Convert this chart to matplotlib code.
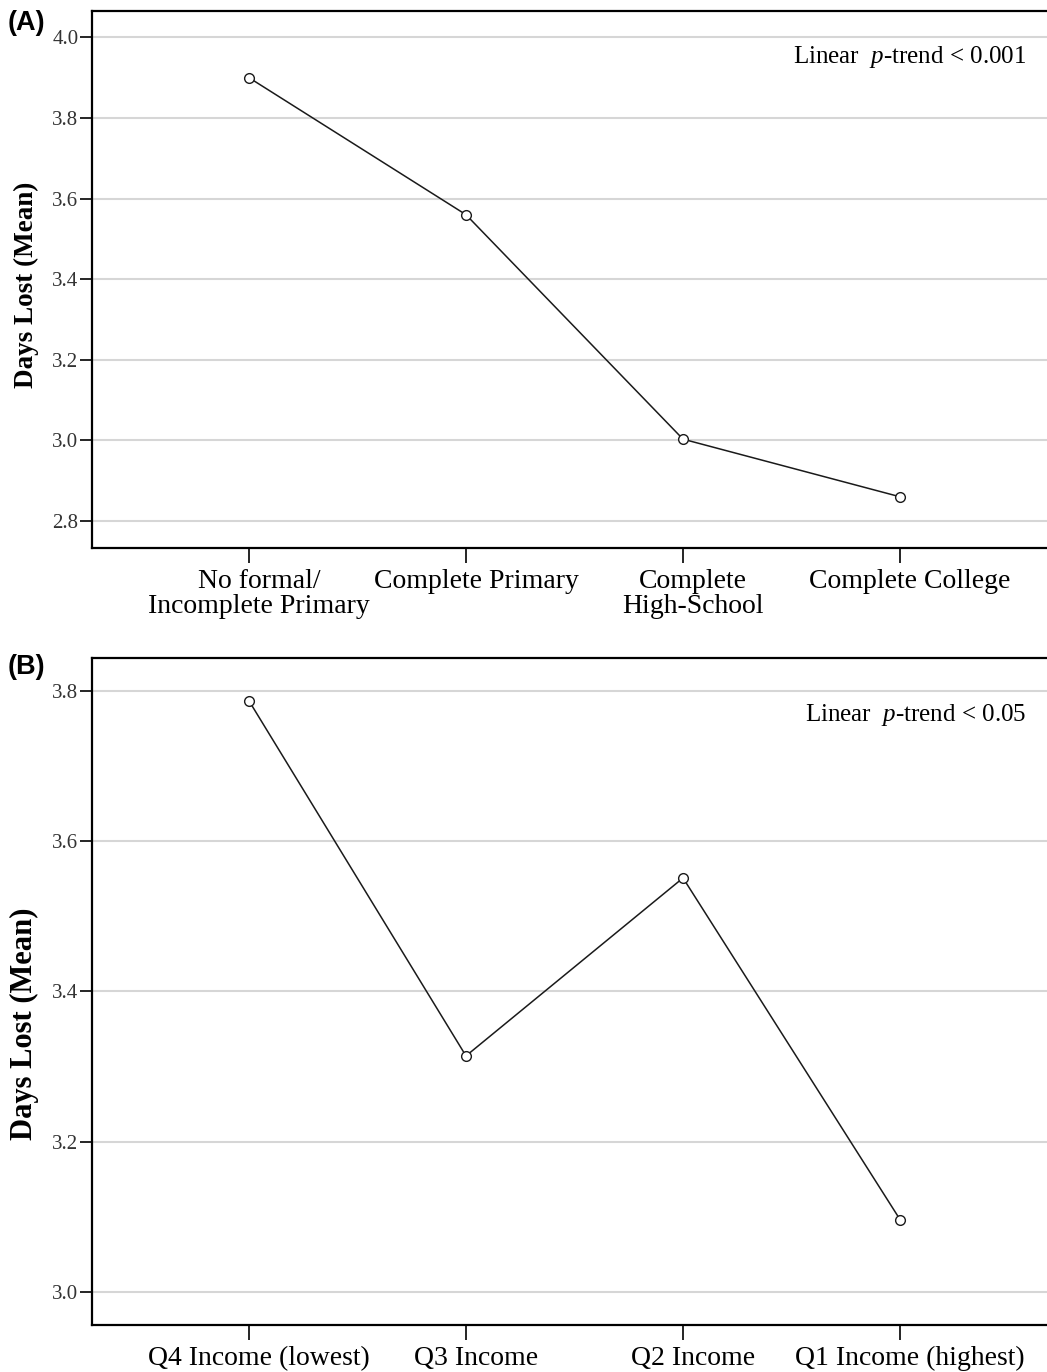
import matplotlib
matplotlib.use('Agg')
import matplotlib.pyplot as plt
import matplotlib.transforms as mtransforms

plt.rcParams['mathtext.fontset'] = 'custom'
plt.rcParams['mathtext.rm'] = 'Liberation Serif'
plt.rcParams['mathtext.it'] = 'Liberation Serif:italic'

# Panel A: education level
edu_labels = ['No formal/\nIncomplete Primary', 'Complete Primary',
              'Complete\nHigh-School', 'Complete College']
edu_days = [3.90, 3.56, 3.003, 2.86]
edu_ticks = [2.8, 3.0, 3.2, 3.4, 3.6, 3.8, 4.0]

# Panel B: income quartile
inc_labels = ['Q4 Income (lowest)', 'Q3 Income', 'Q2 Income', 'Q1 Income (highest)']
inc_days = [3.787, 3.314, 3.551, 3.096]
inc_ticks = [3.0, 3.2, 3.4, 3.6, 3.8]

SERIF = 'Liberation Serif'

fig = plt.figure(figsize=(10.47, 13.72), dpi=100)
axA = fig.add_axes([0.0883, 0.6006, 0.9117, 0.3917])
axB = fig.add_axes([0.0883, 0.0343, 0.9117, 0.4863])


def draw(ax, labels, vals, ticks, ylim, trend, ylab_size, ylab_y):
    x = list(range(len(vals)))
    ax.plot(x, vals, color='#1a1a1a', lw=1.1, marker='o', ms=7,
            mfc='white', mec='#1a1a1a', mew=1.0, zorder=3)
    ax.set_xlim(-0.721, 3.677)
    ax.set_ylim(*ylim)
    ax.set_yticks(ticks)
    ax.set_yticklabels([f'{t:.1f}' for t in ticks], family=SERIF,
                       fontsize=15, color='#333333')
    ax.set_xticks(x)
    ax.set_xticklabels(labels, family=SERIF, fontsize=20, linespacing=1.0)
    ax.grid(axis='y', color='#d6d6d6', lw=1.5, zorder=0)
    ax.set_axisbelow(True)
    ax.spines['right'].set_visible(False)
    for s in ['left', 'top', 'bottom']:
        ax.spines[s].set_linewidth(1.6)
    ax.tick_params(axis='y', direction='out', length=9, width=1.2, pad=1)
    ax.tick_params(axis='x', direction='out', length=11, width=1.2, pad=4)
    # category labels sit a little right of their ticks
    shift = mtransforms.ScaledTranslation(0.10, 0, fig.dpi_scale_trans)
    for lbl in ax.get_xticklabels():
        lbl.set_transform(lbl.get_transform() + shift)
    ax.set_ylabel('Days Lost (Mean)', family=SERIF, fontweight='bold',
                  fontsize=ylab_size)
    ax.yaxis.set_label_coords(-0.056, ylab_y)
    ax.text(0.978, 0.914, trend, transform=ax.transAxes,
            ha='right', va='center', family=SERIF, fontsize=18)
    return ax


draw(axA, edu_labels, edu_days, edu_ticks, (2.733, 4.0665),
     r'Linear  $\mathit{p}$-trend < 0.001', 19.5, 0.49)
draw(axB, inc_labels, inc_days, inc_ticks, (2.9557, 3.8443),
     r'Linear  $\mathit{p}$-trend < 0.05', 22, 0.451)

fig.text(0.007, 0.983, '(A)', family='Liberation Sans', fontweight='bold', fontsize=19.5,
         va='center', ha='left')
fig.text(0.007, 0.514, '(B)', family='Liberation Sans', fontweight='bold', fontsize=19.5,
         va='center', ha='left')

fig.savefig('out.png', dpi=100)
